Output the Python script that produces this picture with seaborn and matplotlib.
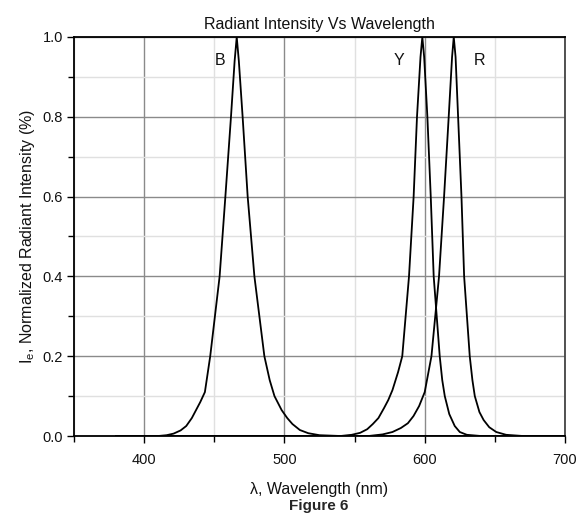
import numpy as np
import pandas as pd
import matplotlib
matplotlib.use("Agg")
import matplotlib.pyplot as plt
import seaborn as sns
from matplotlib.ticker import MultipleLocator

# ---- data ----
b_wavelength = [380, 410, 416, 421, 426, 430, 434, 437, 440, 443.3, 447.1, 453.8, 457.9, 461.9, 464.5, 466,
                467.5, 470.2, 473.8, 478.6, 485.7, 489.5, 492.9, 498, 502, 505.7, 511, 517, 525, 540, 700]
b_intensity = [0.0, 0.0, 0.002, 0.006, 0.014, 0.025, 0.045, 0.065, 0.085, 0.11, 0.20, 0.40, 0.60, 0.80, 0.94, 1.0,
               0.94, 0.80, 0.60, 0.40, 0.20, 0.14, 0.10, 0.065, 0.045, 0.03, 0.015, 0.007, 0.002, 0.0, 0.0]

y_wavelength = [380, 540, 548, 554, 559, 563, 567, 571, 574, 577, 581, 584.0, 588.8, 592.1, 594.5, 597, 598.3,
                599.6, 601.9, 604.3, 606.4, 610.7, 612.5, 614.3, 617.5, 621.4, 625, 630, 640, 700]
y_intensity = [0.0, 0.0, 0.003, 0.008, 0.017, 0.03, 0.045, 0.07, 0.09, 0.115, 0.16, 0.20, 0.40, 0.60, 0.80, 0.95, 1.0,
               0.95, 0.80, 0.60, 0.40, 0.20, 0.14, 0.10, 0.055, 0.025, 0.01, 0.003, 0.0, 0.0]

r_wavelength = [380, 560, 570, 577, 583, 588, 592, 596, 600.0, 604.8, 610.2, 613.8, 617.1, 619.5, 620.7,
                622.0, 623.8, 626.2, 628.1, 632.1, 634, 635.7, 639, 642, 646, 651, 658, 670, 700]
r_intensity = [0.0, 0.0, 0.004, 0.01, 0.02, 0.032, 0.05, 0.075, 0.11, 0.20, 0.40, 0.60, 0.80, 0.95, 1.0,
               0.95, 0.80, 0.60, 0.40, 0.20, 0.14, 0.10, 0.06, 0.04, 0.022, 0.01, 0.003, 0.0, 0.0]

series_names = ["B", "Y", "R"]
label_x = [454.3, 581.8, 639.3]
label_y = [0.94, 0.94, 0.94]

x_ticks = [400, 500, 600, 700]
y_ticks = [0.0, 0.2, 0.4, 0.6, 0.8, 1.0]

frames = []
for name, wl, it in zip(series_names,
                        [b_wavelength, y_wavelength, r_wavelength],
                        [b_intensity, y_intensity, r_intensity]):
    frames.append(pd.DataFrame({"wavelength": wl, "intensity": it, "series": name}))
df = pd.concat(frames, ignore_index=True)

sns.set_theme(style="white")
plt.rcParams["font.family"] = ["Liberation Sans", "DejaVu Sans"]
plt.rcParams["mathtext.fontset"] = "custom"
plt.rcParams["mathtext.rm"] = "Liberation Sans"
plt.rcParams["mathtext.it"] = "Liberation Sans"

fig = plt.figure(figsize=(5.86, 5.17), dpi=100)
ax = fig.add_axes([74 / 586, 1 - 436 / 517, (565 - 74) / 586, (436 - 37) / 517])

sns.lineplot(data=df, x="wavelength", y="intensity", units="series", estimator=None,
             color="black", linewidth=1.3, ax=ax, sort=False, zorder=3)

ax.set_xlim(350, 700)
ax.set_ylim(0, 1.0)
ax.set_xticks(x_ticks)
ax.set_xticklabels([str(t) for t in x_ticks])
ax.set_yticks(y_ticks)
ax.set_yticklabels([f"{t:.1f}" for t in y_ticks])
ax.xaxis.set_minor_locator(MultipleLocator(50))
ax.yaxis.set_minor_locator(MultipleLocator(0.1))

ax.grid(which="major", color="#8a8a8a", linewidth=1.0, zorder=0)
ax.grid(which="minor", color="#e0e0e0", linewidth=1.0, zorder=0)
ax.set_axisbelow(True)

for s in ax.spines.values():
    s.set_visible(True)
    s.set_color("black")
    s.set_linewidth(1.3)
ax.spines["right"].set_color("#444444")

ax.tick_params(axis="both", which="major", direction="out", length=5, width=1,
               color="black", labelsize=10.5, labelcolor="#111111",
               bottom=True, left=True, top=False, right=False)
ax.tick_params(axis="x", which="major", pad=7)
ax.tick_params(axis="y", which="major", pad=3)
ax.tick_params(axis="both", which="minor", direction="out", length=4, width=1,
               color="black", bottom=True, left=True, top=False, right=False)

for name, lx, ly in zip(series_names, label_x, label_y):
    ax.text(lx, ly, name, fontsize=11.5, ha="center", va="center", color="#111111")

ax.set_xlabel("λ, Wavelength (nm)", fontsize=11.5, labelpad=11, color="#111111")
ax.set_ylabel(r"I$_\mathregular{e}$, Normalized Radiant Intensity (%)", fontsize=11.5,
              labelpad=4, color="#111111")
ax.set_title("Radiant Intensity Vs Wavelength", fontsize=11.5, pad=6, color="#111111")

fig.text(319 / 586, 1 - 506 / 517, "Figure 6", fontsize=11, fontweight="bold",
         ha="center", va="center")

fig.savefig("out.png", dpi=100)
